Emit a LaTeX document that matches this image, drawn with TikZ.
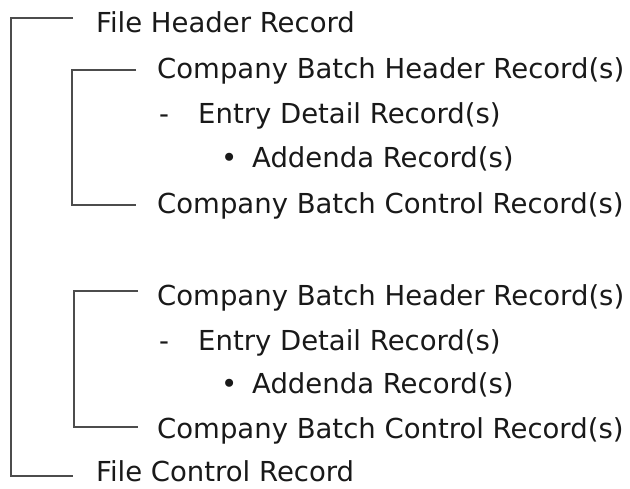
\documentclass[tikz,border=0pt]{standalone}
\usepackage{fontspec}
\setmainfont{DejaVu Sans}
\begin{document}
\begin{tikzpicture}[x=1pt,y=-1pt,
  rec/.style={anchor=base west,inner sep=0pt,font=\fontsize{27.5}{32}\selectfont,text=black!90},
  brk/.style={draw=black!70,line width=1.1pt}]
\useasboundingbox (0,0) rectangle (630,488);
% record lines
\node[rec] (fh) at (96,32) {File Header Record};
\node[rec] (h1) at (157,78) {Company Batch Header Record(s)};
\node[rec] (e1) at (159,123) {\makebox[39pt][l]{-}Entry Detail Record(s)};
\node[rec] (a1) at (221,167) {\makebox[31pt][l]{\textbullet}Addenda Record(s)};
\node[rec] (c1) at (157,213) {Company Batch Control Record(s)};
\node[rec] (h2) at (157,305) {Company Batch Header Record(s)};
\node[rec] (e2) at (159,350) {\makebox[39pt][l]{-}Entry Detail Record(s)};
\node[rec] (a2) at (221,393) {\makebox[31pt][l]{\textbullet}Addenda Record(s)};
\node[rec] (c2) at (157,438) {Company Batch Control Record(s)};
\node[rec] (fc) at (96,481) {File Control Record};
% brackets
\coordinate (fhL) at (73,18);
\coordinate (fcL) at (73,476);
\draw[brk] (fhL) -- (11,18) -- (11,476) -- (fcL);
\coordinate (h1L) at (136,70);
\coordinate (c1L) at (136,205);
\draw[brk] (h1L) -- (72,70) -- (72,205) -- (c1L);
\coordinate (h2L) at (138,291);
\coordinate (c2L) at (138,427);
\draw[brk] (h2L) -- (74,291) -- (74,427) -- (c2L);
\end{tikzpicture}
\end{document}
